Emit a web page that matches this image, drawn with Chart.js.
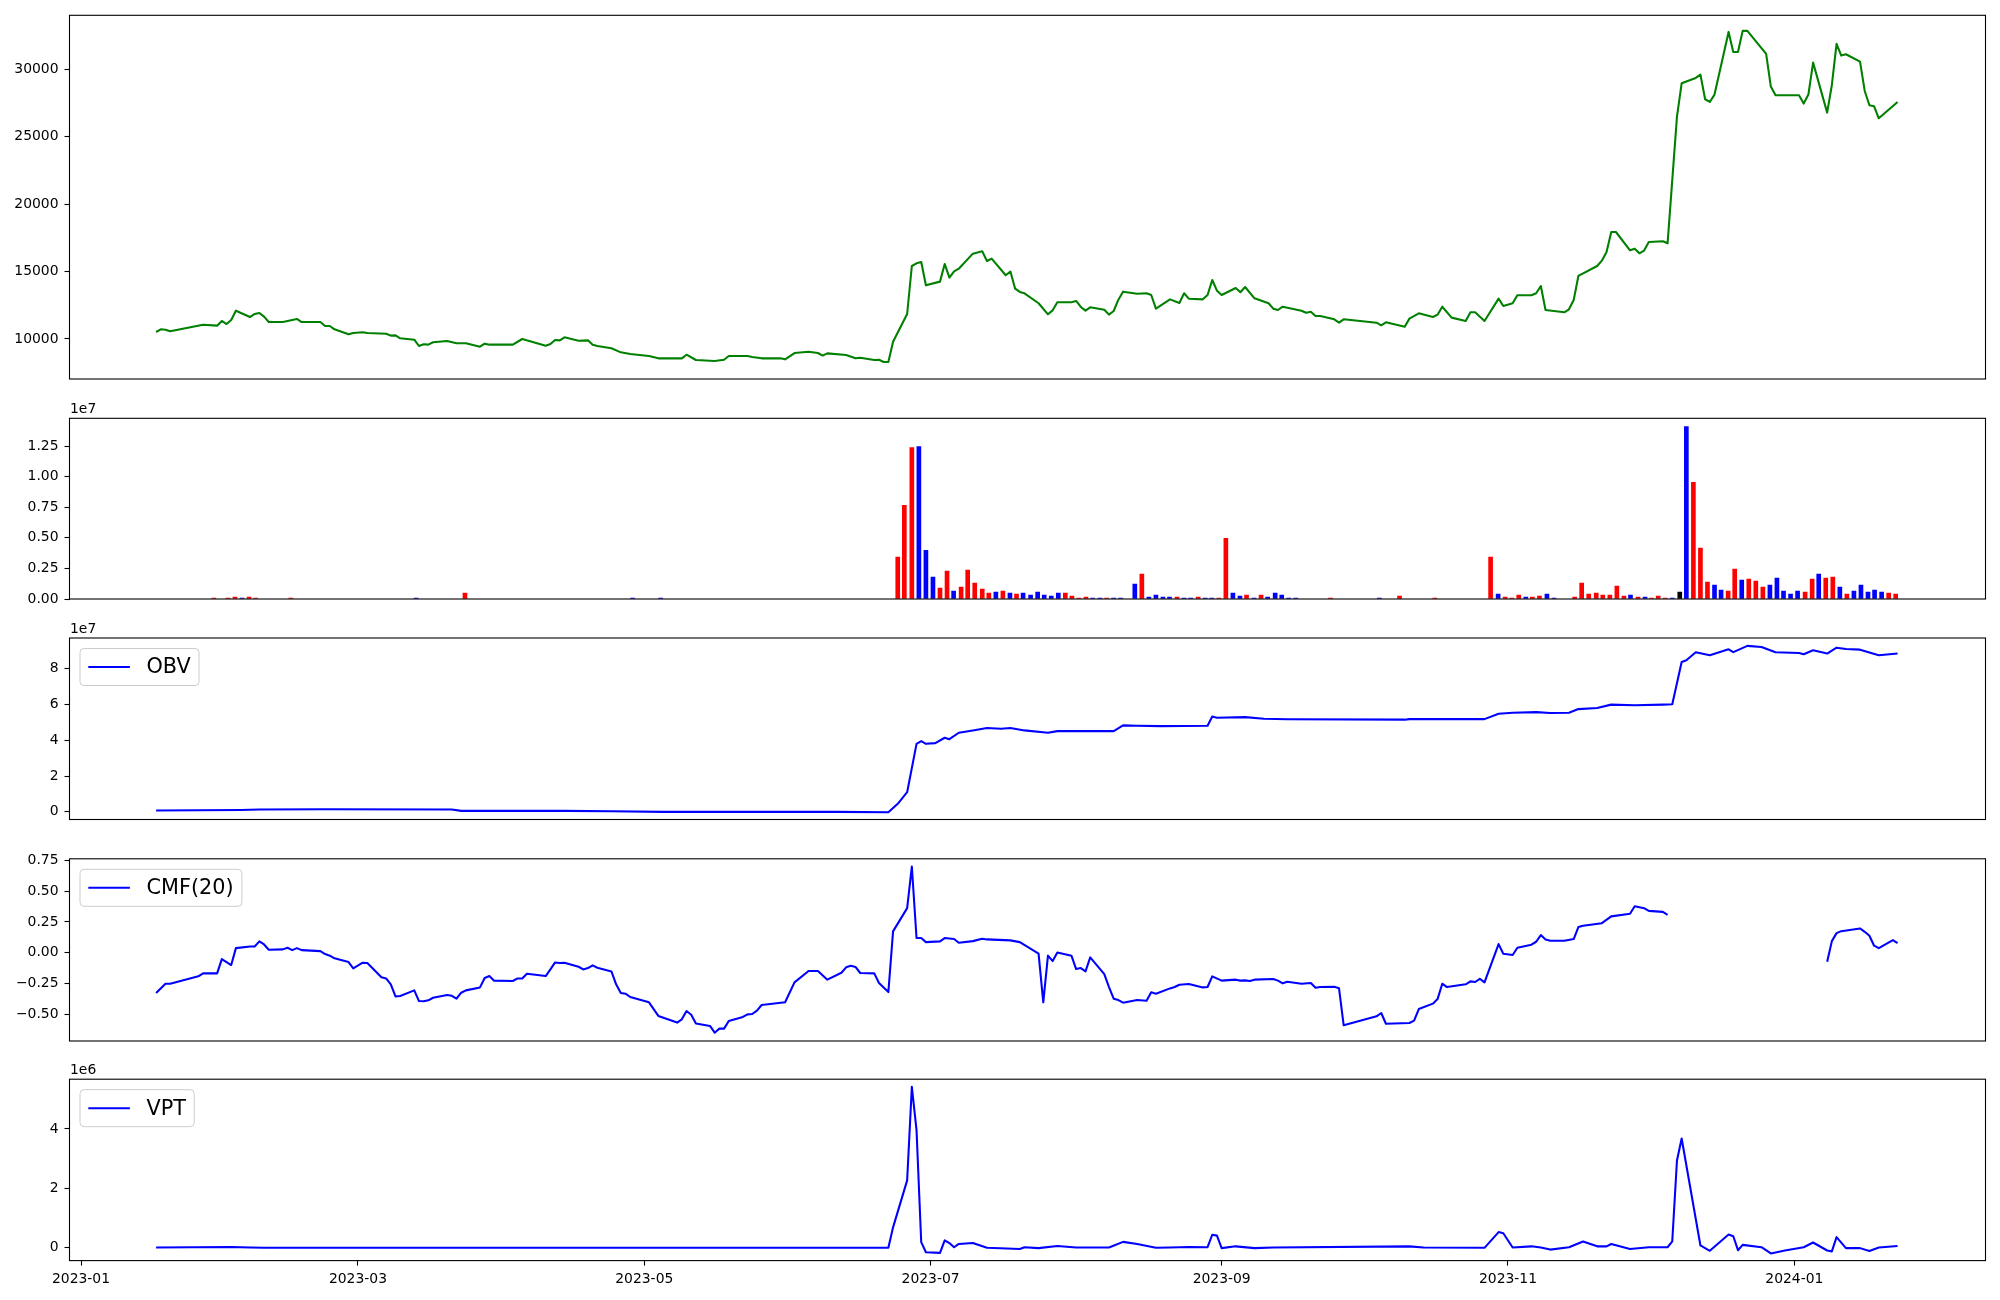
<!DOCTYPE html>
<html>
<head>
<meta charset="utf-8">
<script src="https://cdn.jsdelivr.net/npm/chart.js@4.4.1/dist/chart.umd.min.js"></script>
<style>
  html, body { margin: 0; padding: 0; background: #fff; }
  #wrap { position: relative; width: 2000px; height: 1300px; }
  #wrap canvas { position: absolute; left: 0; top: 0; }
</style>
</head>
<body>
<div id="wrap">
  <canvas id="price" width="2000" height="1300"></canvas>
  <canvas id="volume" width="2000" height="1300"></canvas>
  <canvas id="obv" width="2000" height="1300"></canvas>
  <canvas id="cmf" width="2000" height="1300"></canvas>
  <canvas id="vpt" width="2000" height="1300"></canvas>
</div>
<script>
// x values are days since 2023-01-01
const dateTickDays = [0, 59, 120, 181, 243, 304, 365];
const dateTickLabels = ['2023-01', '2023-03', '2023-05', '2023-07', '2023-09', '2023-11', '2024-01'];

const priceDays = [16,17,18,19,26,29,30,31,32,33,36,37,38,39,40,43,46,47,51,52,53,54,57,58,60,61,65,66,67,68,
  71,72,73,74,75,78,80,82,85,86,87,92,94,99,100,101,102,103,106,108,109,110,113,115,117,121,123,128,129,131,
  135,137,138,142,143,145,149,150,152,155,157,158,159,163,165,166,169,170,171,172,173,176,177,178,179,180,
  183,184,185,186,187,190,192,193,194,197,198,199,200,201,204,206,207,208,211,212,213,214,215,218,219,220,
  221,222,225,227,228,229,232,234,235,236,239,240,241,242,243,246,247,248,250,253,254,255,256,260,261,262,
  263,264,267,268,269,276,277,278,282,283,285,288,289,290,292,295,296,297,299,302,303,305,306,309,310,311,
  312,316,317,318,319,323,324,325,326,327,330,331,332,333,334,337,338,340,341,344,345,346,347,348,351,352,
  353,354,355,359,360,361,366,367,368,369,372,373,374,375,376,379,380,381,382,383,387];
const priceValues = [10520,10720,10690,10570,11060,10990,11335,11110,11410,12100,11630,11855,11930,11660,11260,
  11260,11485,11260,11260,10965,10965,10720,10345,10445,10495,10445,10395,10250,10270,10050,
  9950,9480,9605,9580,9755,9850,9680,9680,9430,9655,9580,9580,10000,9505,9630,9925,9900,10125,9875,9900,
  9580,9480,9310,9010,8885,8740,8565,8565,8835,8440,
  8370,8465,8740,8740,8665,8565,8565,8490,8960,9060,8960,8765,8935,8815,8565,8615,8440,8465,8295,8295,
  9800,11855,15415,15615,15710,13985,
  14255,15565,14555,15020,15215,16330,16505,15785,15960,14725,15000,13735,13490,13390,12650,11830,12125,12725,
  12725,12820,12375,12100,12350,12175,11805,12075,
  12915,13510,13360,13390,13265,12250,12940,12670,13390,12990,12940,13265,14375,13585,13265,13785,13465,13855,
  13015,12650,12250,12150,12395,12100,11950,12025,
  11705,11705,11460,11210,11460,11210,11015,11235,10915,11510,11905,11630,11805,12395,11585,11335,11980,11980,
  11335,12990,12450,12650,13240,13240,13390,13930,
  12150,11980,12200,12895,14675,15415,15810,16455,17935,17935,16580,16700,16355,16555,17195,17245,17095,26490,
  28965,29360,29605,27780,27580,28125,32775,31290,
  31290,32850,32850,31140,28720,28075,28075,27460,28125,30495,26790,28840,31885,31020,31115,30570,28395,27335,
  27260,26370,27580];

const volumeDays = [28.3,31.3,32.8,34.3,35.8,37.2,44.7,71.4,81.8,117.5,123.5,
  174.0,175.4,177.0,178.5,180.0,181.5,183.0,184.5,185.9,187.5,188.9,190.4,192.0,193.4,194.9,196.4,197.9,199.3,
  200.7,202.3,203.8,205.2,206.7,208.2,209.7,211.1,212.6,214.1,215.5,217.1,218.5,220.0,221.5,224.5,226.0,227.5,
  229.0,230.5,231.9,233.5,235.0,236.4,238.0,239.5,240.9,242.4,243.9,245.4,246.9,248.3,249.9,251.4,252.8,254.4,
  255.8,257.3,258.8,266.2,276.6,280.9,288.4,
  300.3,301.9,303.4,304.8,306.3,307.8,309.2,310.7,312.3,313.8,318.2,319.7,321.2,322.8,324.2,325.7,327.2,328.7,
  330.1,331.7,333.2,334.6,336.0,337.5,339.0,340.6,342.0,343.5,345.0,346.5,348.0,349.4,350.9,352.3,353.8,355.3,
  356.8,358.3,359.8,361.3,362.7,364.2,365.7,367.3,368.8,370.2,371.7,373.2,374.7,376.2,377.7,379.2,380.7,382.1,
  383.6,385.1,386.6];
const volumeValues = [80000,80000,160000,80000,160000,80000,80000,80000,490000,80000,80000,
  3420000,7660000,12390000,12470000,3990000,1790000,900000,2280000,650000,980000,2360000,1300000,820000,490000,
  570000,650000,490000,410000,
  490000,330000,570000,330000,240000,490000,490000,240000,80000,160000,80000,80000,80000,80000,80000,1220000,
  2040000,160000,
  330000,160000,160000,160000,80000,80000,160000,80000,80000,80000,4970000,490000,240000,330000,80000,330000,
  160000,490000,
  330000,80000,80000,80000,80000,240000,80000,
  3420000,410000,160000,80000,330000,160000,160000,240000,410000,80000,160000,1300000,410000,490000,330000,
  330000,1060000,240000,
  330000,160000,160000,80000,240000,80000,80000,570000,14100000,9540000,4160000,1390000,1140000,730000,650000,
  2450000,1550000,1630000,
  1470000,980000,1140000,1710000,650000,410000,650000,570000,1630000,2040000,1710000,1790000,980000,410000,
  650000,1140000,570000,730000,
  570000,490000,410000];
// 1 = close up (red), -1 = close down (blue), 0 = unchanged (black)
const volumeMove = [1,1,1,-1,1,1,1,-1,1,-1,-1,
  1,1,1,-1,-1,-1,1,1,-1,1,1,1,1,1,-1,1,-1,1,
  -1,-1,-1,-1,-1,-1,1,1,1,1,-1,-1,1,-1,-1,-1,1,-1,
  -1,-1,-1,1,-1,-1,1,-1,-1,1,1,-1,-1,1,-1,1,-1,-1,
  -1,-1,-1,1,-1,1,1,
  1,-1,1,1,1,-1,1,1,-1,-1,1,1,1,1,1,1,1,1,
  -1,1,-1,1,1,1,-1,0,-1,1,1,1,-1,-1,1,1,-1,1,
  1,1,-1,-1,-1,-1,-1,1,1,-1,1,1,-1,1,-1,-1,-1,-1,
  -1,1,1];

const obvDays = [16,34,38,52,79,81,103,113,124,161,172,174,176,178,179,180,182,184,185,187,190,193,196,198,201,
  206,208,220,222,225,230,240,241,242,248,252,257,282,283,299,302,305,310,313,317,319,323,326,331,337,339,341,
  342,344,347,351,352,355,358,361,366,367,369,372,374,376,379,383,387];
const obvValues = [730000,1100000,1300000,1500000,1300000,560000,560000,400000,0,0,-200000,4500000,11000000,
  38000000,39500000,38000000,38400000,41400000,40600000,44200000,45500000,46800000,46400000,46800000,45500000,
  44200000,45100000,45100000,48300000,48100000,47900000,48100000,53300000,52600000,52900000,52000000,51700000,
  51500000,51800000,51800000,54800000,55400000,55700000,55200000,55400000,57400000,58000000,59900000,59500000,
  59900000,60100000,83700000,84700000,89100000,87500000,90800000,89200000,92700000,92100000,89100000,88700000,
  88000000,90300000,88400000,91700000,91000000,90600000,87500000,88400000];

// null marks the stretch where CMF(20) is missing
const cmfDays = [16,18,19,25,26,29,30,32,33,36,37,38,39,40,43,44,45,46,47,51,52,53,54,57,58,60,61,64,65,66,67,68,
  71,72,73,74,75,78,79,80,81,82,85,86,87,88,92,93,94,95,99,100,101,102,103,106,107,108,109,110,113,114,115,116,
  117,121,123,127,128,129,130,131,134,135,136,137,138,141,142,143,144,145,150,152,155,157,159,162,163,164,165,
  166,169,170,172,173,176,177,178,179,180,183,184,186,187,190,192,193,198,200,204,205,206,207,208,211,212,213,
  214,215,218,219,220,221,222,225,227,228,229,232,233,234,236,239,240,241,243,246,247,248,249,250,254,255,256,
  257,260,262,263,264,267,268,269,276,277,278,283,284,285,288,289,290,291,295,296,297,298,299,302,303,305,306,
  309,310,311,312,313,316,318,319,320,324,326,330,331,333,334,337,338,340,372,373,374,375,379,380,381,382,383,
  386,387];
const cmfValues = [-0.328,-0.252,-0.252,-0.192,-0.168,-0.168,-0.052,-0.100,0.037,0.051,0.051,0.092,0.067,0.024,
  0.027,0.040,0.021,0.037,0.021,0.013,-0.011,-0.024,-0.046,-0.076,-0.127,-0.081,-0.084,-0.200,-0.209,-0.257,
  -0.355,-0.352,
  -0.306,-0.393,-0.395,-0.387,-0.366,-0.344,-0.350,-0.374,-0.325,-0.306,-0.282,-0.206,-0.190,-0.227,-0.230,
  -0.209,-0.209,-0.171,-0.190,-0.136,-0.079,-0.084,-0.081,-0.114,-0.136,-0.125,-0.103,-0.122,-0.152,-0.257,
  -0.328,-0.333,
  -0.360,-0.403,-0.514,-0.568,-0.541,-0.474,-0.504,-0.576,-0.595,-0.650,-0.617,-0.617,-0.555,-0.522,-0.501,
  -0.498,-0.471,-0.425,-0.403,-0.241,-0.149,-0.149,-0.219,-0.163,-0.119,-0.106,-0.116,
  -0.165,-0.168,-0.246,-0.320,0.173,0.362,0.700,0.119,0.119,0.086,0.092,0.119,0.111,0.081,0.094,0.113,0.108,
  0.100,0.086,-0.008,-0.403,-0.024,-0.068,0.002,-0.024,-0.133,-0.125,
  -0.152,-0.038,-0.174,-0.279,-0.374,-0.385,-0.406,-0.385,-0.390,-0.322,-0.333,-0.290,-0.279,-0.260,-0.255,
  -0.282,-0.279,-0.192,-0.227,-0.219,-0.227,-0.225,-0.230,-0.219,-0.214,-0.227,-0.249,
  -0.236,-0.252,-0.246,-0.285,-0.279,-0.276,-0.288,-0.590,-0.517,-0.490,-0.577,-0.571,-0.552,-0.458,-0.414,
  -0.377,-0.252,-0.279,-0.257,-0.233,-0.238,-0.212,-0.241,0.070,-0.008,-0.019,0.040,
  0.065,0.089,0.143,0.108,0.097,0.097,0.111,0.208,0.219,0.240,0.295,0.316,0.378,0.362,0.340,0.332,0.308,null,
  -0.073,0.094,0.159,0.175,0.197,0.170,0.138,0.057,0.037,
  0.102,0.078];

const vptDays = [16,32,36,39,172,173,176,177,178,179,180,183,184,185,186,187,190,193,200,201,204,208,212,219,222,
  225,229,232,236,240,241,242,243,246,250,254,283,286,299,302,303,305,309,311,313,317,320,323,325,326,330,334,
  338,339,340,341,345,347,351,352,353,354,358,360,363,367,369,372,373,374,376,379,381,383,387];
const vptValues = [10000,30000,10000,0,0,690000,2270000,5420000,3960000,190000,-150000,-170000,250000,160000,20000,
  130000,160000,0,-40000,20000,-10000,60000,10000,10000,200000,
  130000,0,10000,30000,20000,440000,410000,-10000,50000,-10000,10000,50000,10000,0,530000,490000,10000,50000,
  10000,-60000,20000,210000,50000,50000,130000,-40000,20000,
  20000,220000,2940000,3680000,80000,-100000,450000,390000,-80000,100000,20000,-190000,-90000,20000,180000,
  -90000,-120000,360000,-10000,-10000,-110000,10000,60000];

const priceTicks = [10000, 15000, 20000, 25000, 30000];
const volumeTicks = [0, 2500000, 5000000, 7500000, 10000000, 12500000];
const obvTicks = [0, 20000000, 40000000, 60000000, 80000000];
const cmfTicks = [-0.5, -0.25, 0, 0.25, 0.5, 0.75];
const vptTicks = [0, 2000000, 4000000];

const FONT = '"DejaVu Sans", sans-serif';
const tickFont = { family: FONT, size: 13.9 };
const X_MIN = -2.45, X_MAX = 405.73;
const PLOT_LEFT = 69.5, PLOT_RIGHT = 1985.5;
const LINE_W = 2.08;

function pts(xs, ys) {
  return xs.map((x, i) => ({ x: x, y: ys[i] }));
}

// matplotlib-like frame, offset text and legend box inside the axes
const framePlugin = {
  id: 'frame',
  afterDraw(chart, args, opts) {
    const ctx = chart.ctx;
    const a = chart.chartArea;
    ctx.save();
    ctx.strokeStyle = '#000';
    ctx.lineWidth = 1.1;
    ctx.strokeRect(a.left, a.top, a.right - a.left, a.bottom - a.top);
    if (opts.offsetText) {
      ctx.font = '13.9px ' + FONT;
      ctx.fillStyle = '#000';
      ctx.textAlign = 'left';
      ctx.textBaseline = 'alphabetic';
      ctx.fillText(opts.offsetText, a.left + 0.5, a.top - 5);
    }
    if (opts.legend) {
      const fs = 20.8;
      ctx.font = fs + 'px ' + FONT;
      const tw = ctx.measureText(opts.legend).width;
      const x = a.left + 10.5, y = a.top + 10.5;
      const w = 8.3 + 41.6 + 16.6 + tw + 8.3, h = 37, r = 4;
      ctx.beginPath();
      ctx.moveTo(x + r, y);
      ctx.arcTo(x + w, y, x + w, y + h, r);
      ctx.arcTo(x + w, y + h, x, y + h, r);
      ctx.arcTo(x, y + h, x, y, r);
      ctx.arcTo(x, y, x + w, y, r);
      ctx.closePath();
      ctx.fillStyle = 'rgba(255,255,255,0.8)';
      ctx.fill();
      ctx.strokeStyle = '#cccccc';
      ctx.lineWidth = 1;
      ctx.stroke();
      ctx.beginPath();
      ctx.moveTo(x + 8.3, y + h / 2);
      ctx.lineTo(x + 49.9, y + h / 2);
      ctx.strokeStyle = '#0000ff';
      ctx.lineWidth = LINE_W;
      ctx.stroke();
      ctx.fillStyle = '#000';
      ctx.textAlign = 'left';
      ctx.textBaseline = 'middle';
      ctx.fillText(opts.legend, x + 66.5, y + h / 2 + 1);
    }
    ctx.restore();
  }
};

function makePanel(id, datasets, o) {
  const showDates = !!o.showDates;
  return new Chart(document.getElementById(id), {
    type: 'line',
    data: { datasets: datasets },
    plugins: [framePlugin],
    options: {
      responsive: false,
      animation: false,
      devicePixelRatio: 1,
      events: [],
      layout: {
        padding: { top: o.top, bottom: showDates ? 0 : 1300 - o.bottom, left: 0, right: 2000 - PLOT_RIGHT }
      },
      plugins: {
        legend: { display: false },
        tooltip: { enabled: false },
        frame: { offsetText: o.offsetText, legend: o.legend }
      },
      scales: {
        x: {
          type: 'linear',
          min: X_MIN,
          max: X_MAX,
          offset: false,
          display: showDates,
          afterBuildTicks: s => { s.ticks = dateTickDays.map(v => ({ value: v })); },
          afterFit: s => { if (showDates) s.height = 1300 - o.bottom; },
          grid: { drawOnChartArea: false, drawTicks: true, tickLength: 5, tickWidth: 1.1, tickColor: '#000' },
          border: { display: false },
          ticks: {
            color: '#000', font: tickFont, padding: 5, maxRotation: 0, autoSkip: false,
            callback: (v, i) => dateTickLabels[i]
          }
        },
        y: {
          type: 'linear',
          min: o.yMin,
          max: o.yMax,
          afterBuildTicks: s => { s.ticks = o.ticks.map(v => ({ value: v })); },
          afterFit: s => { s.width = PLOT_LEFT; },
          grid: { drawOnChartArea: false, drawTicks: true, tickLength: 5, tickWidth: 1.1, tickColor: '#000' },
          border: { display: false },
          ticks: { color: '#000', font: tickFont, padding: 6, autoSkip: false, callback: o.label }
        }
      }
    }
  });
}

const lineStyle = { borderWidth: LINE_W, pointRadius: 0, tension: 0, fill: false, borderJoinStyle: 'round', spanGaps: false };

makePanel('price', [
  Object.assign({ data: pts(priceDays, priceValues), borderColor: '#008000' }, lineStyle)
], { top: 15.3, bottom: 379, yMin: 7033, yMax: 34006, ticks: priceTicks, label: v => String(v) });

makePanel('volume', [{
  type: 'bar',
  data: pts(volumeDays, volumeValues),
  backgroundColor: volumeMove.map(m => m > 0 ? '#ff0000' : (m < 0 ? '#0000ff' : '#000000')),
  borderWidth: 0,
  barThickness: 4
}], { top: 418.3, bottom: 599, yMin: 0, yMax: 14780000, ticks: volumeTicks,
  label: v => (v / 1e7).toFixed(2), offsetText: '1e7' });

makePanel('obv', [
  Object.assign({ data: pts(obvDays, obvValues), borderColor: '#0000ff' }, lineStyle)
], { top: 638, bottom: 819.5, yMin: -4250000, yMax: 97100000, ticks: obvTicks,
  label: v => String(v / 1e7), offsetText: '1e7', legend: 'OBV' });

makePanel('cmf', [
  Object.assign({ data: pts(cmfDays, cmfValues), borderColor: '#0000ff' }, lineStyle)
], { top: 858.8, bottom: 1041, yMin: -0.7175, yMax: 0.763, ticks: cmfTicks,
  label: v => v.toFixed(2).replace('-', '\u2212'), legend: 'CMF(20)' });

makePanel('vpt', [
  Object.assign({ data: pts(vptDays, vptValues), borderColor: '#0000ff' }, lineStyle)
], { top: 1079.2, bottom: 1260.6, yMin: -430000, yMax: 5676000, ticks: vptTicks,
  label: v => String(v / 1e6), offsetText: '1e6', legend: 'VPT', showDates: true });
</script>
</body>
</html>
